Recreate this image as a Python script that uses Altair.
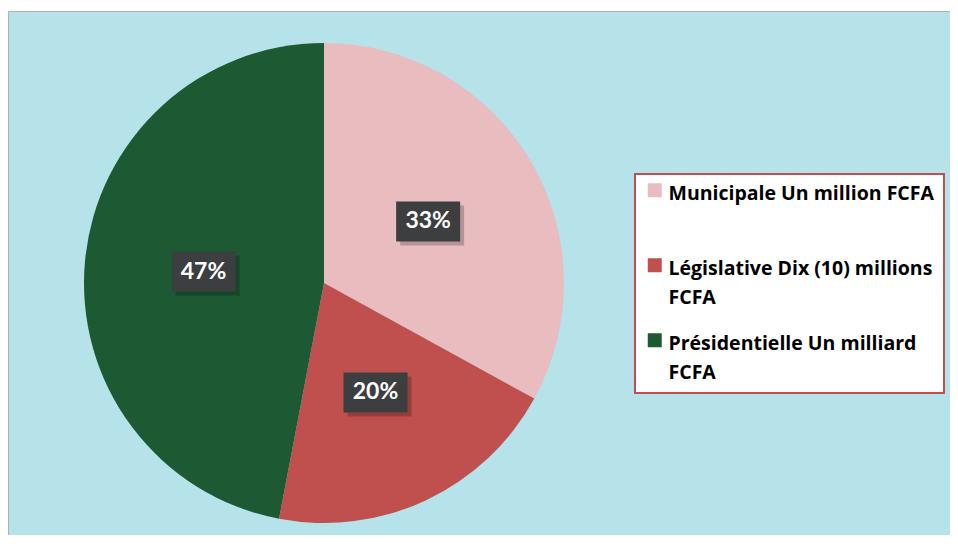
import altair as alt
import pandas as pd

categories = ["Municipale Un million FCFA",
              "Législative Dix (10) millions FCFA",
              "Présidentielle Un milliard FCFA"]
values = [33, 20, 47]
labels = ["33%", "20%", "47%"]
colors = ["#e9bdc0", "#c0504d", "#1d5a33"]

df = pd.DataFrame({"category": categories, "value": values,
                   "label": labels, "idx": list(range(len(categories)))})

CX, CY, R, LR = 316, 272, 240, 121
BW, BH = 32, 20

base = alt.Chart(df)

legend = alt.Legend(
    orient="none", legendX=627, legendY=163, title=None,
    fillColor="white", strokeColor="#c0504d", padding=10,
    symbolType="M-1,-1.5 L1,-1.5 L1,0.5 L-1,0.5 Z",
    symbolSize=196, symbolStrokeWidth=0, symbolOpacity=1,
    labelFont="Open Sans", labelFontSize=19.5, labelFontWeight="bold",
    labelColor="black", labelLimit=500, labelOffset=4,
    labelBaseline="middle", rowPadding=25,
    labelExpr="indexof(datum.label, 'Municipale') == 0 ? [datum.label, ' '] : [slice(datum.label, 0, -5), 'FCFA']",
)

pie = base.mark_arc(radius=R).encode(
    theta=alt.Theta("value:Q", stack=True),
    color=alt.Color("category:N", scale=alt.Scale(domain=categories, range=colors), legend=legend),
    order=alt.Order("idx:Q"),
    x=alt.value(CX), y=alt.value(CY),
)

lab = base.transform_window(
    cum="sum(value)", frame=[None, 0], sort=[alt.SortField("idx")]
).transform_joinaggregate(total="sum(value)").transform_calculate(
    mid="(datum.cum - datum.value/2) / datum.total * 2 * PI"
).transform_calculate(
    px=f"{CX} + {LR} * sin(datum.mid)",
    py=f"{CY} - {LR} * cos(datum.mid)",
).transform_calculate(
    bx1=f"datum.px - {BW}", bx2=f"datum.px + {BW}",
    by1=f"datum.py - {BH}", by2=f"datum.py + {BH}",
    sx1=f"datum.px - {BW} + 4", sx2=f"datum.px + {BW} + 4",
    sy1=f"datum.py - {BH} + 4", sy2=f"datum.py + {BH} + 4",
)

shadow = lab.mark_rect(color="#000000", opacity=0.22).encode(
    x=alt.X("sx1:Q", scale=None), x2="sx2:Q",
    y=alt.Y("sy1:Q", scale=None), y2="sy2:Q",
)
box = lab.mark_rect(color="#3c3e40", opacity=1).encode(
    x=alt.X("bx1:Q", scale=None), x2="bx2:Q",
    y=alt.Y("by1:Q", scale=None), y2="by2:Q",
)
txt = lab.mark_text(font="Lato", fontSize=23, fontWeight="bold", color="white",
                    baseline="middle", align="center").encode(
    x=alt.X("px:Q", scale=None), y=alt.Y("py:Q", scale=None), text="label:N",
)

chart = alt.layer(pie, shadow, box, txt).properties(
    width=942, height=524, autosize="none",
    padding={"left": 0, "top": 3, "right": 0, "bottom": 0},
    background="white",
).configure(
    view=alt.ViewConfig(fill="#b6e2ea", stroke="#aab4b8", strokeWidth=1),
    legend=alt.LegendConfig(strokeWidth=2),
    style={"guide-label": {"lineHeight": 29}},
)

chart.save("out.html", embed_options={"renderer": "svg", "actions": False})
